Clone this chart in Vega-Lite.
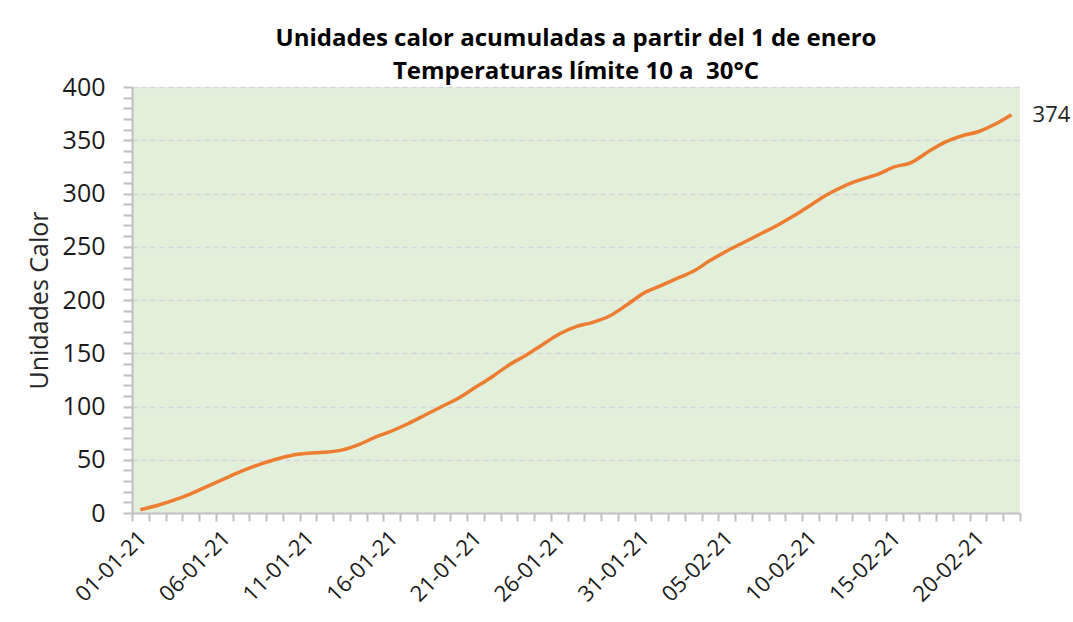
{
  "$schema": "https://vega.github.io/schema/vega-lite/v6.json",
  "width": 888,
  "height": 426,
  "autosize": "none",
  "padding": {"left": 132, "top": 87, "right": 53, "bottom": 109},
  "background": "white",
  "config": {
    "font": "Open Sans",
    "view": {"fill": "#E2EFDA", "stroke": null}
  },
  "title": {
    "text": ["Unidades calor acumuladas a partir del 1 de enero", "Temperaturas límite 10 a\u00a0 30°C"],
    "font": "Open Sans",
    "fontSize": 24,
    "fontWeight": "bold",
    "color": "#000000",
    "lineHeight": 33,
    "anchor": "middle",
    "offset": -9
  },
  "data": {
    "values": [
      {"fecha": "01-01-21", "uc": 3}, {"fecha": "02-01-21", "uc": 7}, {"fecha": "03-01-21", "uc": 12},
      {"fecha": "04-01-21", "uc": 18}, {"fecha": "05-01-21", "uc": 25}, {"fecha": "06-01-21", "uc": 32},
      {"fecha": "07-01-21", "uc": 39}, {"fecha": "08-01-21", "uc": 45}, {"fecha": "09-01-21", "uc": 50},
      {"fecha": "10-01-21", "uc": 54}, {"fecha": "11-01-21", "uc": 56}, {"fecha": "12-01-21", "uc": 57},
      {"fecha": "13-01-21", "uc": 59}, {"fecha": "14-01-21", "uc": 64}, {"fecha": "15-01-21", "uc": 71},
      {"fecha": "16-01-21", "uc": 77}, {"fecha": "17-01-21", "uc": 84}, {"fecha": "18-01-21", "uc": 92},
      {"fecha": "19-01-21", "uc": 100}, {"fecha": "20-01-21", "uc": 108}, {"fecha": "21-01-21", "uc": 118},
      {"fecha": "22-01-21", "uc": 128}, {"fecha": "23-01-21", "uc": 139}, {"fecha": "24-01-21", "uc": 148},
      {"fecha": "25-01-21", "uc": 158}, {"fecha": "26-01-21", "uc": 168}, {"fecha": "27-01-21", "uc": 175},
      {"fecha": "28-01-21", "uc": 179}, {"fecha": "29-01-21", "uc": 185}, {"fecha": "30-01-21", "uc": 195},
      {"fecha": "31-01-21", "uc": 206}, {"fecha": "01-02-21", "uc": 213}, {"fecha": "02-02-21", "uc": 220},
      {"fecha": "03-02-21", "uc": 227}, {"fecha": "04-02-21", "uc": 237}, {"fecha": "05-02-21", "uc": 246},
      {"fecha": "06-02-21", "uc": 254}, {"fecha": "07-02-21", "uc": 262}, {"fecha": "08-02-21", "uc": 270},
      {"fecha": "09-02-21", "uc": 279}, {"fecha": "10-02-21", "uc": 289}, {"fecha": "11-02-21", "uc": 299},
      {"fecha": "12-02-21", "uc": 307}, {"fecha": "13-02-21", "uc": 313}, {"fecha": "14-02-21", "uc": 318},
      {"fecha": "15-02-21", "uc": 325}, {"fecha": "16-02-21", "uc": 329}, {"fecha": "17-02-21", "uc": 339},
      {"fecha": "18-02-21", "uc": 348}, {"fecha": "19-02-21", "uc": 354}, {"fecha": "20-02-21", "uc": 358},
      {"fecha": "21-02-21", "uc": 365}, {"fecha": "22-02-21", "uc": 374}
    ]
  },
  "encoding": {
    "x": {
      "field": "fecha",
      "type": "ordinal",
      "sort": null,
      "scale": {"type": "band", "paddingInner": 0, "paddingOuter": 0},
      "axis": {
        "title": null,
        "tickBand": "extent",
        "tickSize": 8,
        "tickColor": "#BFBFBF",
        "tickWidth": 2,
        "domainColor": "#BFBFBF",
        "domainWidth": 2,
        "labelAngle": -45,
        "labelAlign": "right",
        "labelBaseline": "top",
        "labelPadding": 6,
        "labelOffset": -5,
        "labelFont": "Open Sans",
        "labelFontSize": 22,
        "labelColor": "#1A1A1A",
        "labelOverlap": false,
        "labelExpr": "indexof(['01-01-21','06-01-21','11-01-21','16-01-21','21-01-21','26-01-21','31-01-21','05-02-21','10-02-21','15-02-21','20-02-21'], datum.value) >= 0 ? datum.value : ''",
        "grid": false
      }
    },
    "y": {
      "field": "uc",
      "type": "quantitative",
      "scale": {"domain": [0, 400], "nice": false},
      "axis": {
        "title": "Unidades Calor",
        "titleFont": "Open Sans",
        "titleFontSize": 25,
        "titleFontWeight": "normal",
        "titleColor": "#262626",
        "titlePadding": 10,
        "values": [0,10,20,30,40,50,60,70,80,90,100,110,120,130,140,150,160,170,180,190,200,210,220,230,240,250,260,270,280,290,300,310,320,330,340,350,360,370,380,390,400],
        "labelExpr": "datum.value % 50 === 0 ? datum.value : ''",
        "labelFont": "Open Sans",
        "labelFontSize": 25,
        "labelColor": "#1A1A1A",
        "labelPadding": 18,
        "tickSize": 9,
        "tickColor": "#BFBFBF",
        "tickWidth": 2,
        "domainColor": "#BFBFBF",
        "domainWidth": 2,
        "grid": true,
        "gridColor": "#D6D3DE",
        "gridDash": [5, 4],
        "gridWidth": 1.5,
        "gridOpacity": {"condition": {"test": "datum.value % 50 === 0 && datum.value > 0", "value": 1}, "value": 0}
      }
    }
  },
  "layer": [
    {
      "mark": {"type": "line", "color": "#ED7D31", "strokeWidth": 3.5, "interpolate": "monotone"}
    },
    {
      "transform": [{"filter": "datum.fecha === '22-02-21'"}],
      "mark": {"type": "text", "align": "left", "baseline": "middle", "dx": 21, "fontSize": 22, "font": "Open Sans", "color": "#262626"},
      "encoding": {"text": {"field": "uc", "type": "quantitative"}}
    }
  ]
}
